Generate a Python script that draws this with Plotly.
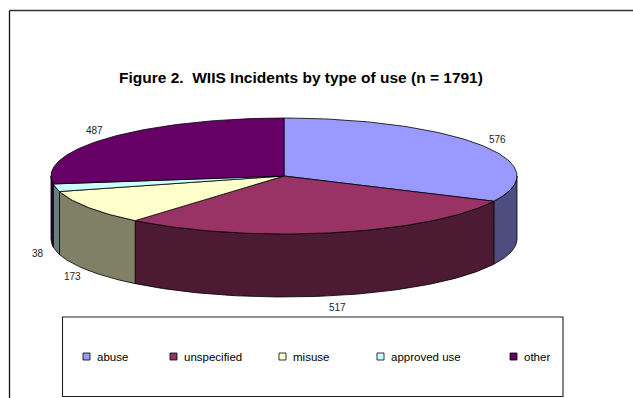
import numpy as np
import plotly.graph_objects as go

# Incident counts by type of use
categories = ["abuse", "unspecified", "misuse", "approved use", "other"]
counts = [576, 517, 173, 38, 487]
top_colors = ["#9999FF", "#993366", "#FFFFCC", "#CCFFFF", "#660066"]
side_colors = ["#4D4D80", "#4D1A33", "#808066", "#668080", "#330033"]
legend_x = [83, 170, 279, 377, 510]

W, H = 633, 398
CX, CY, RX, RY, DEPTH = 284, 176, 233, 58, 63
FONT = "Arial, Liberation Sans, sans-serif"

total = sum(counts)
bounds = np.concatenate([[0.0], np.cumsum(counts)]) / total * 2 * np.pi


def arc(t0, t1):
    n = max(int(abs(t1 - t0) / (2 * np.pi) * 400), 3)
    t = np.linspace(t0, t1, n)
    # angle measured clockwise from 12 o'clock, screen y grows downward
    return CX + RX * np.sin(t), CY - RY * np.cos(t)


fig = go.Figure()

# Visible outer walls (front half of the disc)
for i in range(len(counts)):
    a = max(bounds[i], np.pi / 2)
    b = min(bounds[i + 1], 3 * np.pi / 2)
    if a >= b:
        continue
    xs, ys = arc(a, b)
    px = np.concatenate([xs, xs[::-1], xs[:1]])
    py = np.concatenate([ys, (ys + DEPTH)[::-1], ys[:1]])
    fig.add_trace(go.Scatter(x=px, y=py, mode="lines", fill="toself",
                             fillcolor=side_colors[i],
                             line=dict(color="#000000", width=0.8),
                             hoverinfo="skip", showlegend=False))

# Top faces
for i in range(len(counts)):
    xs, ys = arc(bounds[i], bounds[i + 1])
    px = np.concatenate([[CX], xs, [CX]])
    py = np.concatenate([[CY], ys, [CY]])
    fig.add_trace(go.Scatter(x=px, y=py, mode="lines", fill="toself",
                             fillcolor=top_colors[i],
                             line=dict(color="#000000", width=0.8),
                             hoverinfo="text", text=f"{categories[i]}: {counts[i]}",
                             showlegend=False))

annotations = []
# Value labels at the middle angle of each slice
for i, c in enumerate(counts):
    mid = (bounds[i] + bounds[i + 1]) / 2
    lx = CX + RX * 1.08 * np.sin(mid)
    ly = CY - RY * 1.2 * np.cos(mid) + (DEPTH if np.cos(mid) < 0 else 0)
    annotations.append(dict(x=lx, y=ly, xref="x", yref="y", text=str(c),
                            showarrow=False, xanchor="center", yanchor="middle",
                            font=dict(family=FONT, size=10, color="#222222")))

annotations.append(dict(x=301, y=77, xref="x", yref="y",
                        text=f"<b>Figure 2.\u00a0 WIIS Incidents by type of use (n = {total})</b>",
                        showarrow=False, xanchor="center", yanchor="middle",
                        font=dict(family=FONT, size=15.5, color="#000000")))

shapes = [
    dict(type="line", x0=9.5, y0=10.5, x1=W + 2, y1=10.5, xref="x", yref="y",
         line=dict(color="#333333", width=1.6)),
    dict(type="line", x0=9.5, y0=10.5, x1=9.5, y1=H + 2, xref="x", yref="y",
         line=dict(color="#111111", width=1.3)),
    dict(type="rect", x0=62.5, y0=317, x1=563, y1=396.5, xref="x", yref="y",
         line=dict(color="#222222", width=1.1), fillcolor="rgba(0,0,0,0)"),
]

# Legend entries
for i, name in enumerate(categories):
    x0 = legend_x[i]
    shapes.append(dict(type="rect", x0=x0, y0=353, x1=x0 + 7, y1=360,
                       xref="x", yref="y", fillcolor=top_colors[i],
                       line=dict(color="#000000", width=0.8)))
    annotations.append(dict(x=x0 + 12, y=357, xref="x", yref="y", text=name,
                            showarrow=False, xanchor="left", yanchor="middle",
                            font=dict(family=FONT, size=11.5, color="#000000")))

fig.update_layout(
    width=W, height=H, autosize=False,
    margin=dict(l=0, r=0, t=0, b=0),
    paper_bgcolor="white", plot_bgcolor="white",
    xaxis=dict(range=[0, W], visible=False, fixedrange=True),
    yaxis=dict(range=[H, 0], visible=False, fixedrange=True),
    annotations=annotations, shapes=shapes,
    showlegend=False,
)

fig.write_html("out.html")
